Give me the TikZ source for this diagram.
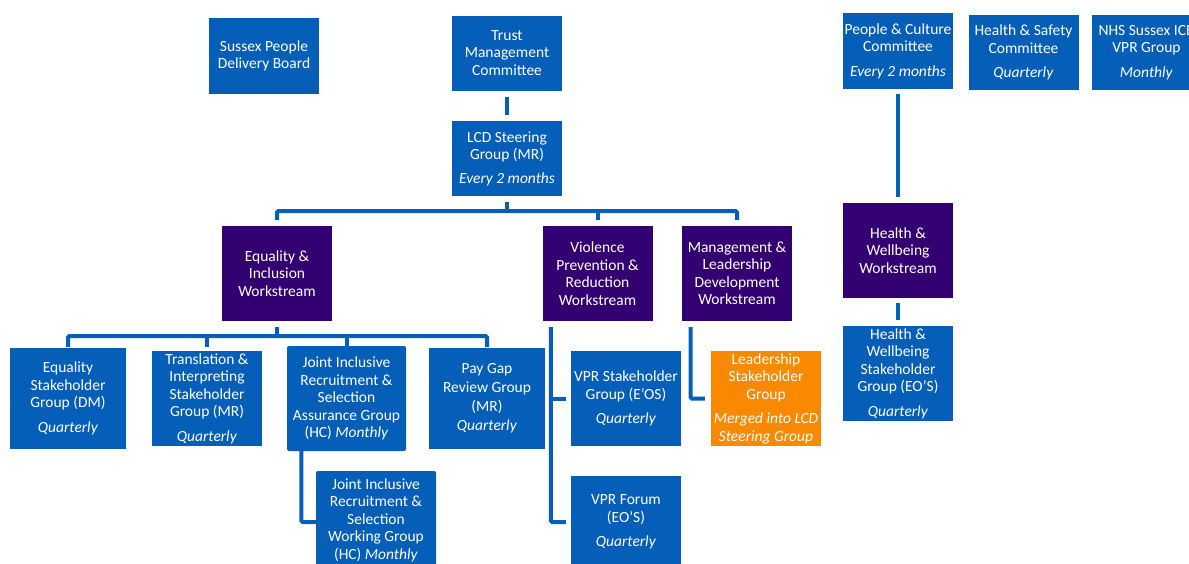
\documentclass[tikz,border=0pt]{standalone}
\usepackage{fontspec}
\setmainfont{Carlito}
\definecolor{nblue}{RGB}{5,94,184}
\definecolor{npurple}{RGB}{51,0,114}
\definecolor{norange}{RGB}{249,137,0}
\begin{document}
\begin{tikzpicture}[x=1pt,y=-1pt,
  box/.style={fill=nblue, text=white, inner sep=0pt, align=center,
              font=\fontsize{15.5}{17.5}\selectfont},
  wbox/.style={box, fill=npurple},
  obox/.style={box, fill=norange},
  sz/.style 2 args={minimum width=#1pt, minimum height=#2pt},
  conn/.style={draw=nblue, line width=4pt, rounded corners=1.5pt}]
\useasboundingbox (0,0) rectangle (1189,563);
\clip (0,0) rectangle (1189,563);

% top row
\node[box, sz={110}{76}] (spdb) at (264,56) {Sussex People\\Delivery Board};
\node[box, sz={110}{75}] (tmc) at (507,53) {Trust\\Management\\Committee};
\node[box, sz={110}{75}] (lcd) at (507,158.5) {LCD Steering\\Group (MR)\\[6pt]\textit{Every 2 months}};
\node[box, sz={110}{76}] (pcc) at (898,51) {People \& Culture\\Committee\\[7pt]\textit{Every 2 months}};
\node[box, sz={110}{75}] (hs) at (1023.5,52.5) {Health \& Safety\\Committee\\[7pt]\textit{Quarterly}};
\node[box, sz={110}{75}] (nhs) at (1146.5,52.5) {NHS Sussex ICB\\VPR Group\\[7pt]\textit{Monthly}};

% workstreams
\node[wbox, sz={110}{95}] (ei) at (277,273.5) {Equality \&\\Inclusion\\Workstream};
\node[wbox, sz={110}{95}] (vpr) at (597.5,273.5) {Violence\\Prevention \&\\Reduction\\Workstream};
\node[wbox, sz={110}{95}] (mld) at (737,273.5) {Management \&\\Leadership\\Development\\Workstream};
\node[wbox, sz={110}{95}] (hww) at (898,250.5) {Health \&\\Wellbeing\\Workstream};

% groups
\node[box, sz={116}{101}] (esg) at (68,398.5) {Equality\\Stakeholder\\Group (DM)\\[7pt]\textit{Quarterly}};
\node[box, sz={110}{95}] (tisg) at (207,398.5) {Translation \&\\Interpreting\\Stakeholder\\Group (MR)\\[7pt]\textit{Quarterly}};
\node[box, sz={119}{105}, rounded corners=2pt] (jirsa) at (346.5,398.5) {Joint Inclusive\\Recruitment \&\\Selection\\Assurance Group\\(HC) \textit{Monthly}};
\node[box, sz={116}{101}, font=\fontsize{15.5}{19}\selectfont] (pg) at (487,398.5) {Pay Gap\\Review Group\\(MR)\\\textit{Quarterly}};
\node[box, sz={120}{98}, rounded corners=2pt] (jirsw) at (376,520) {Joint Inclusive\\Recruitment \&\\Selection\\Working Group\\(HC) \textit{Monthly}};
\node[box, sz={110}{95}] (vprsg) at (626,398.5) {VPR Stakeholder\\Group (E'OS)\\[7pt]\textit{Quarterly}};
\node[box, sz={110}{92}] (vprf) at (626,522) {VPR Forum\\(EO'S)\\[7pt]\textit{Quarterly}};
\node[obox, sz={110}{95}] (lsg) at (766,398.5) {Leadership\\Stakeholder\\Group\\[7pt]\textit{Merged into LCD}\\\textit{Steering Group}};
\node[box, sz={110}{95}] (hwsg) at (898,373.5) {Health \&\\Wellbeing\\Stakeholder\\Group (EO'S)\\[7pt]\textit{Quarterly}};

% connectors
\draw[conn, shorten <=6pt, shorten >=6pt] (tmc) -- (lcd);
\draw[conn, shorten <=5pt, shorten >=6pt] (pcc) -- (hww);
\draw[conn, shorten <=5pt, shorten >=6pt] (hww) -- (hwsg);

\coordinate (tb) at (507,211);
\draw[conn] ([yshift=-6pt]lcd.south) -- (lcd.south |- tb);
\draw[conn] ([yshift=6pt]ei.north) -- (ei.north |- tb) -- (mld.north |- tb) -- ([yshift=6pt]mld.north);
\draw[conn] (vpr.north |- tb) -- ([yshift=6pt]vpr.north);

\coordinate (eb) at (277,336);
\coordinate (ed) at (0,347);
\draw[conn] ([yshift=-6pt]ei.south) -- (ei.south |- eb);
\draw[conn] (esg.north |- ed) -- (esg.north |- eb) -- (pg.north |- eb) -- (pg.north |- ed);
\draw[conn] (tisg.north |- eb) -- (tisg.north |- ed);
\draw[conn] (jirsa.north |- eb) -- (jirsa.north |- ed);

\draw[conn] ([xshift=14.5pt]jirsa.south west) |- ([yshift=-2pt]jirsw.west);

\coordinate (vb) at ([xshift=8.5pt,yshift=-6pt]vpr.south west);
\draw[conn] (vb) |- ([xshift=-5pt]vprf.west);
\draw[conn] (vb |- vprsg.west) -- ([xshift=-5pt]vprsg.west);

\draw[conn] ([xshift=8.7pt,yshift=-6pt]mld.south west) |- ([xshift=-6pt]lsg.west);
\end{tikzpicture}
\end{document}
